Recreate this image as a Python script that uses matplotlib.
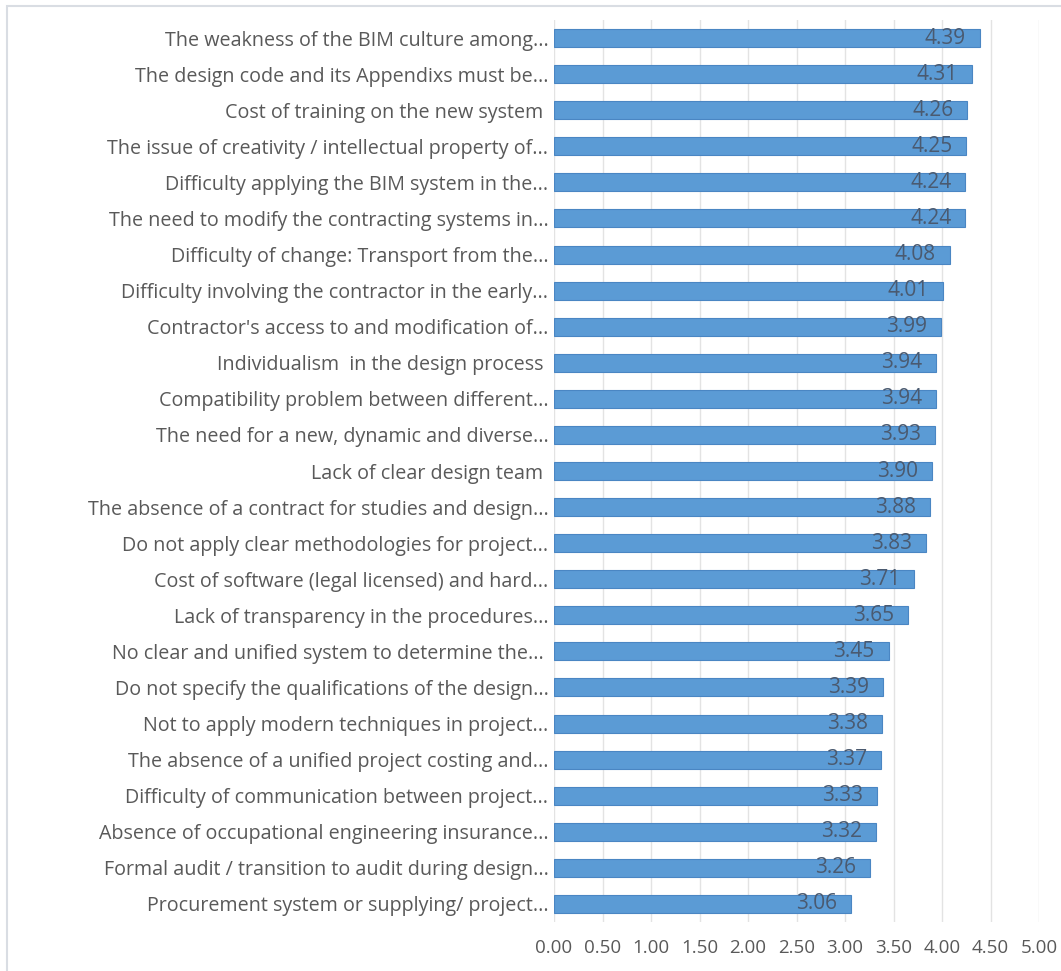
import matplotlib.pyplot as plt
from matplotlib.patches import Rectangle

# barriers, top to bottom
labels = [
    "The weakness of the BIM culture among...",
    "The design code and its Appendixs must be...",
    "Cost of training on the new system ",
    "The issue of creativity / intellectual property of...",
    "Difficulty applying the BIM system in the...",
    "The need to modify the contracting systems in...",
    "Difficulty of change: Transport from the...",
    "Difficulty involving the contractor in the early...",
    "Contractor's access to and modification of...",
    "Individualism  in the design process ",
    "Compatibility problem between different...",
    "The need for a new, dynamic and diverse...",
    "Lack of clear design team ",
    "The absence of a contract for studies and design...",
    "Do not apply clear methodologies for project...",
    "Cost of software (legal licensed) and hard...",
    "Lack of transparency in the procedures...",
    "No clear and unified system to determine the... ",
    "Do not specify the qualifications of the design...",
    "Not to apply modern techniques in project...",
    "The absence of a unified project costing and...",
    "Difficulty of communication between project...",
    "Absence of occupational engineering insurance...",
    "Formal audit / transition to audit during design...",
    "Procurement system or supplying/ project...",
]
scores = [4.39, 4.31, 4.26, 4.25, 4.24, 4.24, 4.08, 4.01, 3.99, 3.94, 3.94, 3.93,
          3.90, 3.88, 3.83, 3.71, 3.65, 3.45, 3.39, 3.38, 3.37, 3.33, 3.32, 3.26, 3.06]
xticks = [0, 0.5, 1, 1.5, 2, 2.5, 3, 3.5, 4, 4.5, 5]

plt.rcParams['font.family'] = ['Open Sans', 'DejaVu Sans']

fig = plt.figure(figsize=(10.61, 9.71), dpi=100)
ax = fig.add_axes([554 / 1061, 1 - 922 / 971, (1039 - 554) / 1061, (922 - 20) / 971])

# light frame around the chart
fig.patches.append(Rectangle((7 / 1061, -0.01), 1.1, 1 - 6 / 971 + 0.01,
                             transform=fig.transFigure, fill=False,
                             edgecolor='#d9dde3', linewidth=1.5))

pos = list(range(len(labels)))
ax.barh(pos, scores, height=0.5, color='#5b9bd5', edgecolor='#4a86c3', linewidth=0.8, zorder=3)

for y, v in zip(pos, scores):
    ax.annotate(f"{v:.2f}", (v, y), xytext=(-10, 0), textcoords='offset points',
                ha='right', va='center', fontsize=15, color='#4a5a70', zorder=4)

ax.set_xlim(0, 5)
ax.set_ylim(len(labels) - 0.5, -0.5)
ax.set_xticks(xticks)
ax.set_xticklabels([f"{t:.2f}" for t in xticks])
ax.set_yticks(pos)
ax.set_yticklabels(labels)
ax.tick_params(axis='x', length=0, labelsize=13.5, colors='#595959', pad=12)
ax.tick_params(axis='y', length=0, labelsize=14.2, colors='#595959', pad=4)
ax.xaxis.grid(True, color='#e3e3e3', linewidth=1, zorder=0)
for s in ax.spines.values():
    s.set_visible(False)

fig.savefig('out.png', dpi=100)
